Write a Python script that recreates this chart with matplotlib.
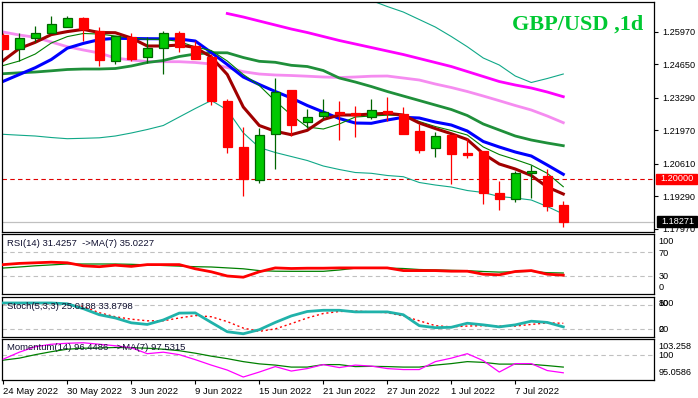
import matplotlib
matplotlib.use('Agg')
import matplotlib.pyplot as plt
import matplotlib.transforms as mtransforms
from matplotlib.patches import Rectangle
import numpy as np

plt.rcParams['font.family'] = ['Liberation Sans', 'DejaVu Sans']

# ---------------- data ----------------
date_labels = ['24 May 2022', '30 May 2022', '3 Jun 2022', '9 Jun 2022', '15 Jun 2022',
               '21 Jun 2022', '27 Jun 2022', '1 Jul 2022', '7 Jul 2022']
date_label_bars = [0, 4, 8, 12, 16, 20, 24, 28, 32]

opens = [1.2584, 1.2528, 1.2573, 1.2590, 1.2615, 1.2653, 1.2599, 1.2479, 1.2574, 1.2493,
         1.2532, 1.2593, 1.2538, 1.2494, 1.2315, 1.2130, 1.1994, 1.2181, 1.2361, 1.2230,
         1.2254, 1.2270, 1.2266, 1.2250, 1.2274, 1.2263, 1.2194, 1.2124, 1.2178, 1.2105,
         1.2113, 1.1943, 1.1920, 1.2023, 1.2012, 1.1894]
highs = [1.2592, 1.2590, 1.2620, 1.2661, 1.2662, 1.2658, 1.2615, 1.2580, 1.2593, 1.2577,
         1.2600, 1.2600, 1.2558, 1.2507, 1.2324, 1.2211, 1.2206, 1.2410, 1.2362, 1.2284,
         1.2324, 1.2317, 1.2296, 1.2324, 1.2332, 1.2292, 1.2222, 1.2190, 1.2179, 1.2166,
         1.2114, 1.1992, 1.2031, 1.2057, 1.2039, 1.1911]
lows = [1.2523, 1.2479, 1.2557, 1.2590, 1.2615, 1.2560, 1.2459, 1.2466, 1.2479, 1.2471,
        1.2425, 1.2513, 1.2485, 1.2301, 1.2106, 1.1931, 1.1982, 1.2041, 1.2174, 1.2205,
        1.2242, 1.2159, 1.2169, 1.2242, 1.2236, 1.2182, 1.2106, 1.2090, 1.1979, 1.2085,
        1.1900, 1.1875, 1.1908, 1.1924, 1.1869, 1.1805]
closes = [1.2528, 1.2570, 1.2592, 1.2627, 1.2651, 1.2607, 1.2482, 1.2578, 1.2487, 1.2530,
          1.2590, 1.2534, 1.2487, 1.2315, 1.2131, 1.1998, 1.2177, 1.2351, 1.2220, 1.2250,
          1.2270, 1.2262, 1.2258, 1.2278, 1.2266, 1.2183, 1.2119, 1.2173, 1.2100, 1.2098,
          1.1944, 1.1920, 1.2023, 1.2032, 1.1891, 1.18271]

ma_fast = [1.24802, 1.25288, 1.25540, 1.25852, 1.25974, 1.26063, 1.25937, 1.25929, 1.25714, 1.25390,
           1.25390, 1.25430, 1.25329, 1.24944, 1.24234, 1.22916, 1.22166, 1.21931, 1.21793, 1.21971,
           1.22409, 1.22592, 1.22592, 1.22632, 1.22661, 1.22592, 1.22267, 1.22044, 1.21834, 1.21598,
           1.21023, 1.20605, 1.20402, 1.20139, 1.19672, 1.19388]
ma_thin = [1.24599, 1.24781, 1.25065, 1.25511, 1.25771, 1.25897, 1.25876, 1.25795, 1.25714, 1.25661,
           1.25661, 1.25572, 1.25349, 1.25207, 1.24781, 1.24234, 1.23788, 1.23159, 1.22592, 1.22105,
           1.22024, 1.22227, 1.22511, 1.22551, 1.22584, 1.22572, 1.22328, 1.22125, 1.21963, 1.21781,
           1.21294, 1.20990, 1.20787, 1.20564, 1.20228, 1.19684]
ma_blue = [1.23958, 1.24234, 1.24510, 1.24842, 1.25301, 1.25495, 1.25649, 1.25702, 1.25694, 1.25686,
           1.25682, 1.25674, 1.25592, 1.25126, 1.24640, 1.24133, 1.23829, 1.23545, 1.23281, 1.22977,
           1.22713, 1.22450, 1.22267, 1.22255, 1.22389, 1.22499, 1.22470, 1.22308, 1.22186, 1.21943,
           1.21517, 1.21294, 1.21091, 1.20929, 1.20564, 1.20187]
ma_green = [1.24267, 1.24303, 1.24335, 1.24384, 1.24437, 1.24457, 1.24457, 1.24477, 1.24579, 1.24721,
            1.24802, 1.24964, 1.25065, 1.25118, 1.25114, 1.24923, 1.24769, 1.24729, 1.24607, 1.24558,
            1.24396, 1.24092, 1.23930, 1.23747, 1.23545, 1.23362, 1.23180, 1.22997, 1.22815, 1.22572,
            1.22227, 1.21984, 1.21740, 1.21578, 1.21456, 1.21347]
ma_pink = [1.25957, 1.25836, 1.25743, 1.25552, 1.25361, 1.25228, 1.25106, 1.24903, 1.24822, 1.24761,
           1.24753, 1.24753, 1.24721, 1.24660, 1.24518, 1.24348, 1.24254, 1.24214, 1.24193, 1.24165,
           1.24133, 1.24112, 1.24133, 1.24165, 1.24173, 1.24092, 1.24011, 1.23849, 1.23707, 1.23545,
           1.23362, 1.23172, 1.22977, 1.22795, 1.22551, 1.22280]
ma_magenta_start = 14
ma_magenta = [1.26708, 1.26566, 1.26403, 1.26241, 1.26079, 1.25937, 1.25775, 1.25613, 1.25471, 1.25329,
              1.25187, 1.25045, 1.24883, 1.24721, 1.24558, 1.24356, 1.24153, 1.23950, 1.23808, 1.23687,
              1.23524, 1.23334]
band_lower = [1.21809, 1.21773, 1.21740, 1.21679, 1.21631, 1.21647, 1.21667, 1.21740, 1.21862, 1.22004,
              1.22166, 1.22511, 1.22855, 1.23180, 1.22795, 1.21870, 1.21274, 1.21071, 1.20909, 1.20747,
              1.20524, 1.20382, 1.20260, 1.20228, 1.20139, 1.20090, 1.19855, 1.19753, 1.19672, 1.19530,
              1.19449, 1.19287, 1.19226, 1.19145, 1.18881, 1.18577]
band_upper_start = 21
band_upper = [1.27742, 1.27458, 1.27235, 1.26991, 1.26768, 1.26464, 1.26160, 1.25775, 1.25361, 1.24903,
              1.24619, 1.24173, 1.23910, 1.24072, 1.24254]

level_price = 1.20000
last_price = 1.18271
price_ticks = [1.25970, 1.24650, 1.23290, 1.21970, 1.20610, 1.19290, 1.17970]

rsi = [49, 51, 52, 53, 52, 47, 45.5, 48, 46, 49, 49, 49, 42, 37, 30, 28, 37, 43.5, 42.5, 43,
       43, 43.5, 43.5, 43.5, 43.5, 39, 39, 39, 38, 38, 33, 32, 37.5, 39, 33, 31.4]
rsi_ma = [43.3, 45, 47, 48.5, 50, 50, 50, 50, 49.5, 48.5, 47.5, 46.5, 45.5, 45, 43.5, 42, 39, 38,
          37.8, 37.8, 37.8, 40, 43, 43.3, 43.3, 42.5, 40.8, 40.2, 39.5, 38.9, 37.5, 36.5, 37, 37.8,
          35.5, 35.0]
stoch_main = [84, 84, 84, 84, 82, 70, 55, 47, 35, 31, 42, 59, 59.5, 36, 13, 8, 18, 36, 52, 63,
              66, 66, 62, 62, 62, 55, 28, 23, 24, 34, 30, 25, 30, 39, 36, 25]
stoch_signal = [82, 82, 82, 82, 81, 75, 60, 50, 44, 40, 40, 47, 53, 50, 38, 22, 14, 20, 33, 47,
                58, 63, 64, 62, 60, 52, 40, 28, 25, 27, 28, 27, 27, 31, 35, 33.9]
momentum = [99.2, 100.6, 101.7, 102.2, 102.4, 102.5, 102.2, 101.9, 101.5, 100.3, 100.6, 100.1,
            99.1, 98.0, 97.0, 95.6, 96.6, 97.7, 96.8, 97.3, 98.1, 97.5, 98.0, 97.8, 97.3, 97.1,
            97.1, 98.7, 99.4, 100.3, 98.9, 96.6, 98.3, 98.3, 96.9, 96.45]
momentum_ma = [99.0, 99.4, 100.1, 100.7, 101.2, 101.4, 101.45, 101.55, 101.5, 101.4, 101.2, 100.9,
               100.4, 99.8, 99.3, 98.7, 98.25, 98.0, 97.6, 97.6, 98.1, 98.1, 97.7, 97.75, 97.7, 97.6,
               97.6, 98.0, 98.3, 98.7, 98.55, 98.2, 98.2, 98.15, 97.9, 97.6]

title = 'GBP/USD ,1d'
rsi_text = 'RSI(14) 31.4257  ->MA(7) 35.0227'
stoch_text = 'Stoch(5,3,3) 25.0188 33.8798'
mom_text = 'Momentum(14) 96.4486  ->MA(7) 97.5315'

# ---------------- layout ----------------
W, H = 698, 398
fig = plt.figure(figsize=(W / 100, H / 100), dpi=100)
fig.patch.set_facecolor('white')


def axpos(top, bottom):
    return [2 / W, 1 - bottom / H, 652 / W, (bottom - top) / H]


ax = fig.add_axes(axpos(2.3, 231.5))
ax_rsi = fig.add_axes(axpos(234, 294))
ax_st = fig.add_axes(axpos(296.5, 337))
ax_mom = fig.add_axes(axpos(339, 379.7))

n = len(opens)
x = np.arange(n)
xlim = (-0.08, 40.67)
for a in (ax, ax_rsi, ax_st, ax_mom):
    a.set_xlim(*xlim)
    for s in a.spines.values():
        s.set_linewidth(0.9)
        s.set_color('black')
    a.set_facecolor('white')
    a.tick_params(axis='x', bottom=False, labelbottom=False)
    a.tick_params(axis='y', left=False, labelleft=False, right=False, labelright=False)

# ---------------- main price panel ----------------
ax.set_ylim(1.17868, 1.27162)
o = np.array(opens); c = np.array(closes); h = np.array(highs); l = np.array(lows)
up = c >= o
green_fill = '#00c800'
green_edge = '#006400'
red = '#ff0000'

ax.axhline(level_price, color='#e00000', lw=0.8, ls=(0, (4, 3)), zorder=1)
ax.axhline(last_price, color='#c0c0c0', lw=0.9, zorder=1)

ax.plot(x[band_upper_start:], band_upper, color='#10a888', lw=0.8, zorder=2)
ax.plot(x, band_lower, color='#10a888', lw=0.8, zorder=2)
ax.plot(x[ma_magenta_start:], ma_magenta, color='#ff00ff', lw=2.0, zorder=2)
ax.plot(x, ma_pink, color='#f58cf0', lw=2.0, zorder=2)
ax.plot(x, ma_green, color='#1f8f3a', lw=2.0, zorder=2)
ax.plot(x, ma_blue, color='#0000ff', lw=2.2, zorder=2)
ax.plot(x, ma_thin, color='#008000', lw=0.8, zorder=2)
ax.plot(x, ma_fast, color='#a00000', lw=2.2, zorder=2)

ax.vlines(x[up], l[up], h[up], color=green_edge, lw=0.9, zorder=3)
ax.vlines(x[~up], l[~up], h[~up], color=red, lw=0.9, zorder=3)
ax.bar(x[up], np.abs(c - o)[up], bottom=np.minimum(o, c)[up], width=0.56,
       color=green_fill, edgecolor=green_edge, linewidth=0.9, zorder=4)
ax.bar(x[~up], np.abs(c - o)[~up], bottom=np.minimum(o, c)[~up], width=0.56,
       color=red, edgecolor=red, linewidth=0.9, zorder=4)

ax.yaxis.tick_right()
ax.set_yticks(price_ticks)
ax.set_yticklabels([f'{p:.5f}' for p in price_ticks])
ax.tick_params(axis='y', right=True, labelright=True, direction='out', length=3,
               width=0.8, pad=3, labelsize=6.6, colors='black')

ax.text(0.9831, 0.882, title, transform=ax.transAxes, ha='right', va='baseline',
        fontsize=16, fontweight='bold', color='#00c832', family=['Liberation Serif', 'DejaVu Serif'])

ident = mtransforms.IdentityTransform()


def price_box(level, label, fc, hpx, x0off, wpx):
    fig.canvas.draw()
    yd = ax.transData.transform((0, level))[1]
    xr = ax.transAxes.transform((1, 0))[0]
    r = Rectangle((xr + x0off, yd - hpx / 2), wpx, hpx, transform=ident,
                  facecolor=fc, edgecolor=fc, zorder=10)
    fig.add_artist(r)
    fig.text(xr + x0off + 5, yd, label, transform=ident, color='white', fontsize=6.6,
             va='center', ha='left', zorder=11)


price_box(level_price, f'{level_price:.5f}', '#ff0000', 9.5, 1.7, 41)
price_box(last_price, f'{last_price:.5f}', '#000000', 11.3, 2.7, 40.6)

# ---------------- RSI ----------------
ax_rsi.set_ylim(0, 100)
for lv in (70, 30):
    ax_rsi.axhline(lv, color='#c0c0c0', lw=0.8, ls=(0, (4, 3)), zorder=1)
ax_rsi.plot(x, rsi_ma, color='#008000', lw=0.9, zorder=2)
ax_rsi.plot(x, rsi, color='#ff0000', lw=2.0, zorder=3)
ax_rsi.text(0.0077, 0.838, rsi_text, transform=ax_rsi.transAxes, fontsize=6.8,
            va='center', ha='left', color='#101030')
for lab, fy in (('100', 0.878), ('70', 0.683), ('30', 0.295), ('0', 0.10)):
    ax_rsi.text(1.0072, fy, lab, transform=ax_rsi.transAxes, fontsize=6.6, va='center', ha='left')

# ---------------- Stochastic ----------------
ax_st.set_ylim(0, 100)
for lv in (80, 20):
    ax_st.axhline(lv, color='#c0c0c0', lw=0.8, ls=(0, (4, 3)), zorder=1)
ax_st.plot(x, stoch_signal, color='#ff0000', lw=1.0, ls=(0, (1.5, 2)), zorder=2)
ax_st.plot(x, stoch_main, color='#20b2aa', lw=2.0, zorder=3)
ax_st.text(0.0077, 0.758, stoch_text, transform=ax_st.transAxes, fontsize=6.8,
           va='center', ha='left', color='#101030', zorder=5)
for lab, fy in (('100', 0.825), ('80', 0.825), ('20', 0.18), ('0', 0.18)):
    ax_st.text(1.0072, fy, lab, transform=ax_st.transAxes, fontsize=6.6, va='center', ha='left')

# ---------------- Momentum ----------------
ax_mom.set_ylim(95.0586, 103.258)
ax_mom.axhline(100, color='#c0c0c0', lw=0.8, ls=(0, (4, 3)), zorder=1)
ax_mom.plot(x, momentum_ma, color='#008000', lw=0.9, zorder=2)
ax_mom.plot(x, momentum, color='#ff00ff', lw=0.9, zorder=3)
ax_mom.text(0.0077, 0.779, mom_text, transform=ax_mom.transAxes, fontsize=6.8,
            va='center', ha='left', color='#101030', zorder=5)
for lab, fy in (('103.258', 0.827), ('100', 0.594), ('95.0586', 0.183)):
    ax_mom.text(1.0072, fy, lab, transform=ax_mom.transAxes, fontsize=6.6, va='center', ha='left')

ax_mom.set_xticks(date_label_bars)
ax_mom.set_xticklabels(date_labels)
ax_mom.tick_params(axis='x', bottom=True, labelbottom=True, direction='out', length=3,
                   width=0.8, pad=2, labelsize=6.8)
for t in ax_mom.get_xticklabels():
    t.set_horizontalalignment('left')

fig.savefig('out.png', dpi=100)
